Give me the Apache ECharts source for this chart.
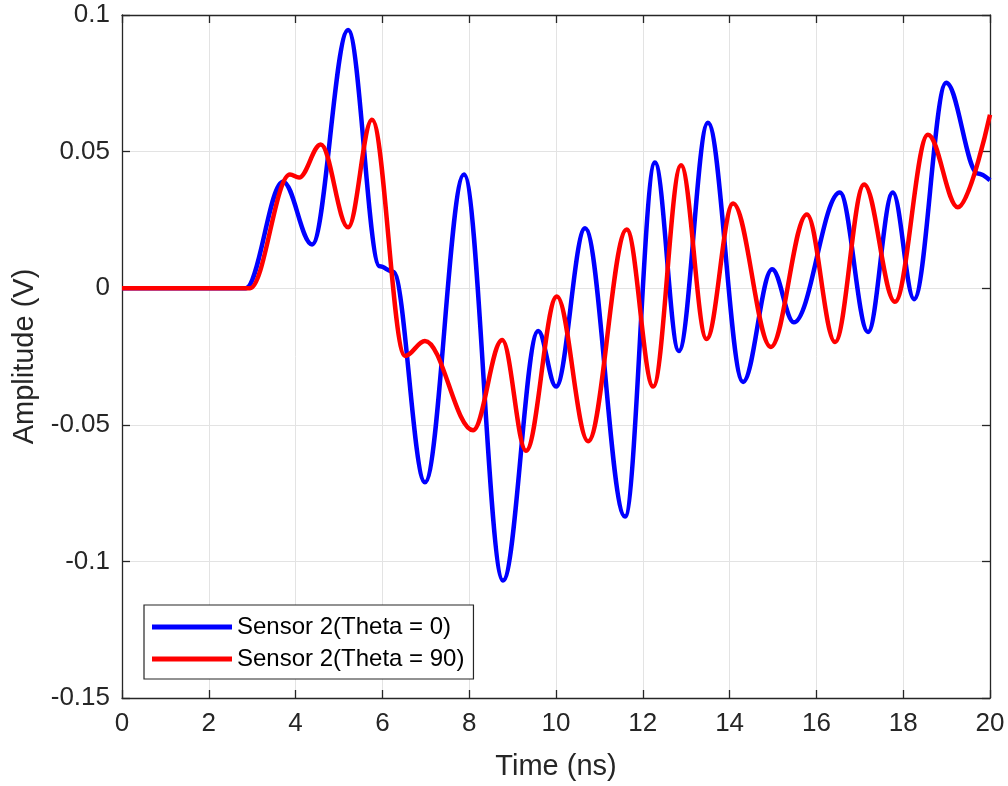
<!DOCTYPE html>
<html>
<head>
<meta charset="utf-8">
<script src="https://cdn.jsdelivr.net/npm/echarts@6/dist/echarts.min.js"></script>
<style>
html,body{margin:0;padding:0;background:#fff;}
#chart{width:1008px;height:786px;}
</style>
</head>
<body>
<div id="chart"></div>
<script>
// Series names
const seriesNames = ['Sensor 2(Theta = 0)', 'Sensor 2(Theta = 90)'];
// Blue series: [time (ns), amplitude (V)] read at peaks/troughs
const blueData = [
  [0, 0], [2.85, 0], [3.71, 0.039], [4.38, 0.016], [5.21, 0.0945],
  [5.94, 0.008], [6.25, 0.006], [6.98, -0.071], [7.88, 0.0416],
  [8.78, -0.107], [9.59, -0.0157], [10.0, -0.036], [10.67, 0.0219],
  [11.59, -0.0836], [12.28, 0.046], [12.83, -0.023], [13.5, 0.0606],
  [14.31, -0.0343], [14.98, 0.0069], [15.48, -0.0125], [16.54, 0.035],
  [17.19, -0.016], [17.76, 0.035], [18.25, -0.004], [18.99, 0.0752],
  [19.72, 0.042], [20, 0.0395]
];
// Red series
const redData = [
  [0, 0], [2.95, 0], [3.87, 0.0416], [4.08, 0.0405], [4.58, 0.0526],
  [5.21, 0.0223], [5.76, 0.0617], [6.52, -0.0248], [6.98, -0.0193],
  [8.09, -0.052], [8.76, -0.019], [9.31, -0.0595], [10.02, -0.003],
  [10.74, -0.056], [11.63, 0.0215], [12.24, -0.036], [12.88, 0.045],
  [13.47, -0.0186], [14.08, 0.031], [14.95, -0.0215], [15.78, 0.027],
  [16.43, -0.0197], [17.1, 0.038], [17.81, -0.005], [18.57, 0.0562],
  [19.26, 0.0296], [20, 0.0635]
];
const xRange = [0, 20, 2];
const yRange = [-0.15, 0.1, 0.05];

const axisColor = '#262626';
const gridColor = '#e3e3e3';
const font = '"Liberation Sans", Arial, Helvetica, sans-serif';

const chart = echarts.init(document.getElementById('chart'), null, {renderer: 'canvas'});

function baseAxis(extra) {
  return Object.assign({
    type: 'value',
    axisLine: {show: true, onZero: false, lineStyle: {color: axisColor, width: 1.3}},
    axisTick: {show: true, inside: true, length: 8, lineStyle: {color: axisColor, width: 1.3}},
  }, extra);
}

chart.setOption({
  animation: false,
  backgroundColor: '#ffffff',
  grid: {left: 122, right: 18, top: 15, bottom: 86, containLabel: false},
  legend: {
    left: 144, top: 605, orient: 'vertical',
    data: seriesNames,
    icon: 'rect', itemWidth: 80, itemHeight: 5, itemGap: 8,
    padding: [10, 9, 8, 8],
    borderColor: axisColor, borderWidth: 1.2, backgroundColor: '#fff',
    textStyle: {fontFamily: font, fontSize: 24, color: '#000'}
  },
  xAxis: [
    baseAxis({
      position: 'bottom', min: xRange[0], max: xRange[1], interval: xRange[2],
      name: 'Time (ns)', nameLocation: 'middle', nameGap: 54,
      nameTextStyle: {fontFamily: font, fontSize: 29, color: axisColor},
      axisLabel: {margin: 13, fontFamily: font, fontSize: 26, color: axisColor},
      splitLine: {show: true, lineStyle: {color: gridColor, width: 1}}
    }),
    baseAxis({
      position: 'top', min: xRange[0], max: xRange[1], interval: xRange[2],
      axisLabel: {show: false}, splitLine: {show: false}
    })
  ],
  yAxis: [
    baseAxis({
      position: 'left', min: yRange[0], max: yRange[1], interval: yRange[2],
      name: 'Amplitude (V)', nameLocation: 'middle', nameGap: 77,
      nameTextStyle: {fontFamily: font, fontSize: 29, color: axisColor},
      axisLabel: {margin: 12, fontFamily: font, fontSize: 26, color: axisColor},
      splitLine: {show: true, lineStyle: {color: gridColor, width: 1}}
    }),
    baseAxis({
      position: 'right', min: yRange[0], max: yRange[1], interval: yRange[2],
      axisLabel: {show: false}, splitLine: {show: false}
    })
  ],
  series: [
    {
      name: seriesNames[0], type: 'line', data: blueData,
      xAxisIndex: 0, yAxisIndex: 0,
      smooth: 0.36, smoothMonotone: 'x', showSymbol: false, symbol: 'none',
      lineStyle: {color: '#0000ff', width: 4.5}, itemStyle: {color: '#0000ff'}, z: 3
    },
    {
      name: seriesNames[1], type: 'line', data: redData,
      xAxisIndex: 0, yAxisIndex: 0,
      smooth: 0.36, smoothMonotone: 'x', showSymbol: false, symbol: 'none',
      lineStyle: {color: '#ff0000', width: 4.5}, itemStyle: {color: '#ff0000'}, z: 4
    }
  ]
});
</script>
</body>
</html>
